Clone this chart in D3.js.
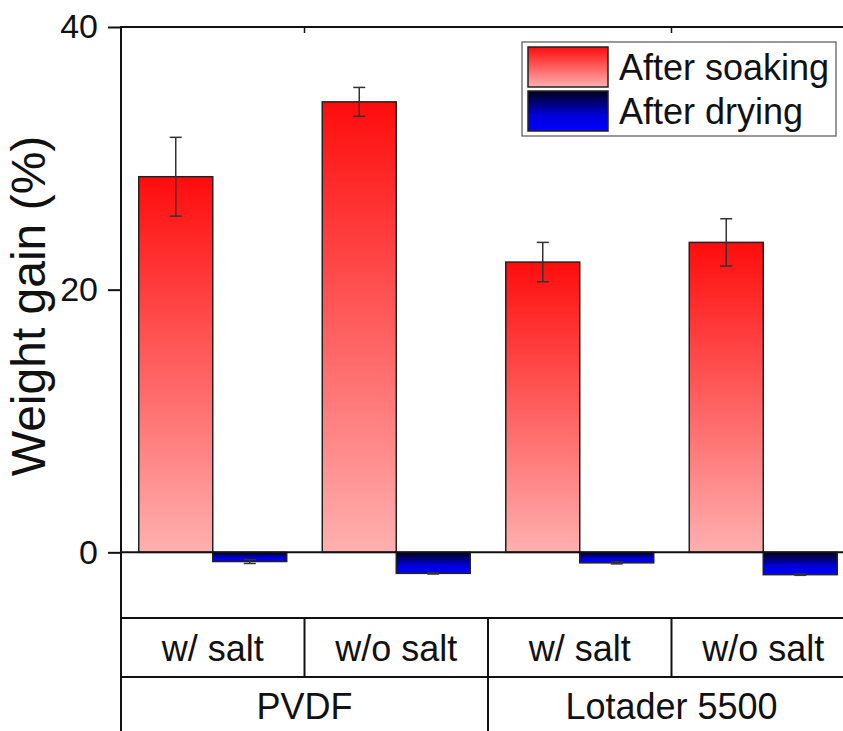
<!DOCTYPE html>
<html>
<head>
<meta charset="utf-8">
<script src="https://cdn.jsdelivr.net/npm/d3@7"></script>
<style>
  body { margin: 0; background: #fff; }
  text { font-family: "Liberation Sans", Arial, sans-serif; fill: #111; }
</style>
</head>
<body>
<div id="chart"></div>
<script>
// Weight gain of membranes after soaking / drying.
var samples = ["PVDF w/ salt", "PVDF w/o salt", "Lotader w/ salt", "Lotader w/o salt"],
    sampleLabels = ["w/ salt", "w/o salt", "w/ salt", "w/o salt"],
    polymers = ["PVDF", "Lotader 5500"],
    series = ["After soaking", "After drying"];

var soaking = [28.6, 34.3, 22.1, 23.6],
    soakingErr = [3.0, 1.1, 1.5, 1.8],
    drying = [-0.7, -1.6, -0.8, -1.7],
    dryingErr = [0.15, 0.05, 0.08, 0.05];

var yTicks = [0, 20, 40];

var width = 843, height = 731,
    plotLeft = 121, plotRight = 855, plotTop = 27, plotBottom = 618, rowLine = 677;

var svg = d3.select("#chart").append("svg")
    .attr("width", width)
    .attr("height", height);

var defs = svg.append("defs");

function gradient(id, stops){
  var g = defs.append("linearGradient")
      .attr("id", id)
      .attr("x1", 0).attr("y1", 0)
      .attr("x2", 0).attr("y2", 1);
  stops.forEach(function (s){
    g.append("stop").attr("offset", s[0]).attr("stop-color", s[1]);
  });
}
gradient("redGrad", [[0, "#ff0c0c"], [1, "#ffb0b0"]]);
gradient("blueGrad", [[0, "#000018"], [0.6, "#0000d8"], [1, "#0000ff"]]);

// Scales
var x = d3.scaleBand()
    .domain(samples)
    .range([plotLeft, plotRight]);

var xs = d3.scaleBand()
    .domain(series)
    .range([0, x.bandwidth()])
    .paddingOuter(0.24);

var y = d3.scaleLinear()
    .domain([-5, 40])
    .range([plotBottom, plotTop]);

var fills = { "After soaking": "url(#redGrad)", "After drying": "url(#blueGrad)" };

var rows = samples.map(function (s, i){
  return [
    { sample: s, key: "After soaking", v: soaking[i], e: soakingErr[i] },
    { sample: s, key: "After drying", v: drying[i], e: dryingErr[i] }
  ];
});

// Bars
var groups = svg.append("g").selectAll("g")
  .data(rows)
  .enter().append("g")
    .attr("transform", function (d){ return "translate(" + x(d[0].sample) + ",0)"; });

groups.selectAll("rect")
  .data(function (d){ return d; })
  .enter().append("rect")
    .attr("x", function (d){ return xs(d.key); })
    .attr("width", xs.bandwidth())
    .attr("y", function (d){ return y(Math.max(0, d.v)); })
    .attr("height", function (d){ return Math.abs(y(d.v) - y(0)); })
    .attr("fill", function (d){ return fills[d.key]; })
    .attr("stroke", "#222")
    .attr("stroke-width", 1.5);

// Error bars
var err = groups.selectAll("g.err")
  .data(function (d){ return d; })
  .enter().append("g")
    .attr("class", "err")
    .attr("stroke", "#333")
    .attr("stroke-width", 1.5)
    .attr("transform", function (d){ return "translate(" + (xs(d.key) + xs.bandwidth() / 2) + ",0)"; });

err.append("line")
    .attr("y1", function (d){ return y(d.v + d.e); })
    .attr("y2", function (d){ return y(d.v - d.e); });
err.append("line")
    .attr("x1", -6).attr("x2", 6)
    .attr("y1", function (d){ return y(d.v + d.e); })
    .attr("y2", function (d){ return y(d.v + d.e); });
err.append("line")
    .attr("x1", -6).attr("x2", 6)
    .attr("y1", function (d){ return y(d.v - d.e); })
    .attr("y2", function (d){ return y(d.v - d.e); });

// Y axis
var yAxis = svg.append("g")
    .attr("transform", "translate(" + plotLeft + ",0)")
    .call(d3.axisLeft(y).tickValues(yTicks).tickSize(13).tickPadding(10).tickFormat(d3.format("d")));
yAxis.select(".domain").remove();
yAxis.selectAll(".tick line").attr("stroke", "#111").attr("stroke-width", 2);
yAxis.selectAll(".tick text")
    .style("font-size", "34px")
    .attr("font-family", null)
    .attr("fill", "#111");

var lines = svg.append("g").attr("stroke", "#111").attr("stroke-width", 2);

// left axis line continues down through the table
lines.append("line").attr("x1", plotLeft).attr("x2", plotLeft).attr("y1", plotTop - 1).attr("y2", height);
// top frame, zero line, table rows
[plotTop, y(0), plotBottom, rowLine].forEach(function (yy){
  lines.append("line").attr("x1", plotLeft).attr("x2", width).attr("y1", yy).attr("y2", yy);
});

// top axis ticks
[x(samples[1]), x(samples[3])].forEach(function (xx){
  lines.append("line").attr("x1", xx).attr("x2", xx).attr("y1", plotTop).attr("y2", plotTop + 6).attr("stroke-width", 1.5);
});

// table cell separators
samples.forEach(function (s, i){
  if (i === 0) return;
  lines.append("line")
      .attr("x1", x(s)).attr("x2", x(s))
      .attr("y1", plotBottom)
      .attr("y2", i === 2 ? height : rowLine);
});

// table labels
svg.append("g").selectAll("text")
  .data(samples)
  .enter().append("text")
    .attr("x", function (d){ return x(d) + x.bandwidth() / 2; })
    .attr("y", 661)
    .attr("text-anchor", "middle")
    .style("font-size", "36px")
    .text(function (d, i){ return sampleLabels[i]; });

svg.append("g").selectAll("text")
  .data(polymers)
  .enter().append("text")
    .attr("x", function (d, i){ return x(samples[i * 2 + 1]); })
    .attr("y", 719)
    .attr("text-anchor", "middle")
    .style("font-size", "36px")
    .text(function (d){ return d; });

// Y title
svg.append("text")
    .attr("transform", "translate(45," + 306 + ") rotate(-90)")
    .attr("text-anchor", "middle")
    .style("font-size", "48px")
    .text("Weight gain (%)");

// Legend
var legend = svg.append("g").attr("transform", "translate(522,42)");
legend.append("rect")
    .attr("width", 314).attr("height", 94)
    .attr("fill", "#fff")
    .attr("stroke", "#555")
    .attr("stroke-width", 1.2);
var item = legend.selectAll("g.item")
  .data(series)
  .enter().append("g")
    .attr("class", "item")
    .attr("transform", function (d, i){ return "translate(6," + (5 + i * 44) + ")"; });
item.append("rect")
    .attr("width", 80).attr("height", 40)
    .attr("fill", function (d){ return fills[d]; })
    .attr("stroke", "#222")
    .attr("stroke-width", 1.5);
item.append("text")
    .attr("x", 91)
    .attr("y", 33)
    .style("font-size", "36px")
    .text(function (d){ return d; });
</script>
</body>
</html>
